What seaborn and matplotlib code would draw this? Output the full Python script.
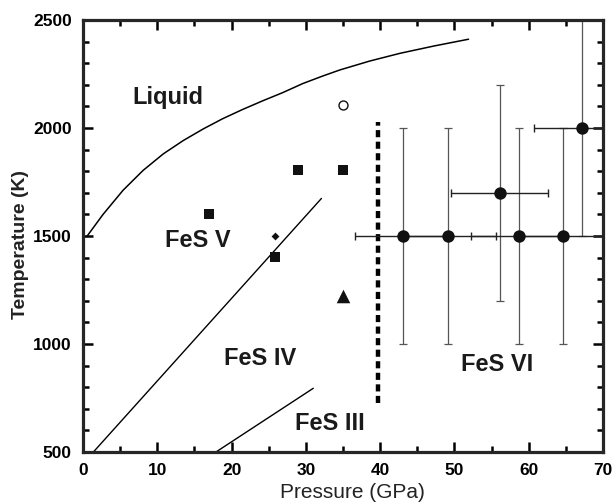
import matplotlib
matplotlib.use("Agg")
import matplotlib.pyplot as plt
from matplotlib.ticker import MultipleLocator
import seaborn as sns

sns.set_style("ticks")
plt.rcParams['font.family'] = ['Liberation Sans', 'DejaVu Sans']

# --- data ---
# melting curve (liquidus)
melt_p = [0.5, 2.7, 5.4, 8.1, 10.8, 13.5, 16.2, 18.8, 21.5, 24.2, 26.9, 29.6,
          32.3, 34.6, 38.6, 42.7, 47.3, 51.9]
melt_t = [1497, 1600, 1712, 1804, 1880, 1942, 1996, 2043, 2086, 2126, 2164, 2206,
          2241, 2269, 2310, 2346, 2380, 2411]
# FeS V / FeS IV boundary
b54_p = [1.4, 32.1]
b54_t = [500, 1674]
# FeS IV / FeS III boundary
b43_p = [17.9, 31.0]
b43_t = [500, 795]
# FeS VI boundary (dashed)
b6_p = [39.7, 39.7]
b6_t = [727, 2028]

# FeS VI data with error bars
vi_p = [43.1, 49.1, 56.1, 58.7, 64.6, 67.2]
vi_t = [1500, 1500, 1700, 1500, 1500, 2000]
vi_perr = [6.5, 6.5, 6.5, 6.5, 6.5, 6.5]
vi_terr_lo = [500, 500, 500, 500, 500, 500]
vi_terr_hi = [500, 500, 500, 500, 500, 600]

sq_p = [17.0, 28.9, 35.0, 25.9]
sq_t = [1603, 1804, 1804, 1401]
dia_p = [25.9]
dia_t = [1502]
tri_p = [35.0]
tri_t = [1222]
open_p = [35.0]
open_t = [2105]

labels = ["Liquid", "FeS V", "FeS IV", "FeS III", "FeS VI"]
label_p = [11.4, 15.5, 23.8, 33.2, 55.7]
label_t = [2143, 1481, 935, 630, 907]

fig = plt.figure(figsize=(6.13, 5.04), dpi=100)
ax = fig.add_axes([83/613, 52/504, 520/613, 432/504])

# phase boundaries
sns.lineplot(x=melt_p, y=melt_t, sort=False, color='k', lw=1.1, ax=ax)
sns.lineplot(x=b54_p, y=b54_t, sort=False, color='k', lw=1.0, ax=ax)
sns.lineplot(x=b43_p, y=b43_t, sort=False, color='k', lw=1.0, ax=ax)
ax.plot(b6_p, b6_t, color='k', lw=3.2, linestyle=(0, (1.6, 1.0)),
        solid_capstyle='butt', dash_capstyle='butt')

# error bars
ax.errorbar(vi_p, vi_t, yerr=[vi_terr_lo, vi_terr_hi], fmt='none',
            ecolor='#555555', elinewidth=0.9, capsize=3, capthick=0.9, zorder=2)
ax.errorbar(vi_p, vi_t, xerr=vi_perr, fmt='none',
            ecolor='#222222', elinewidth=1.0, capsize=3, capthick=1.0, zorder=2)

# markers
sns.scatterplot(x=vi_p, y=vi_t, marker='o', color='#111111', s=80, linewidth=0, ax=ax, zorder=3)
sns.scatterplot(x=sq_p, y=sq_t, marker='s', color='#111111', s=42, linewidth=0, ax=ax, zorder=3)
sns.scatterplot(x=dia_p, y=dia_t, marker='D', color='#111111', s=16, linewidth=0, ax=ax, zorder=3)
sns.scatterplot(x=tri_p, y=tri_t, marker='^', color='#111111', s=95, linewidth=0, ax=ax, zorder=3)
sns.scatterplot(x=open_p, y=open_t, marker='o', facecolor='white', edgecolor='#111111',
                s=42, linewidth=1.0, ax=ax, zorder=3)

for txt, p, t in zip(labels, label_p, label_t):
    ax.text(p, t, txt, fontsize=17, fontweight='bold', ha='center', va='center', color='#1a1a1a')

ax.set_xlim(0, 70)
ax.set_ylim(500, 2500)
ax.xaxis.set_major_locator(MultipleLocator(10))
ax.xaxis.set_minor_locator(MultipleLocator(5))
ax.yaxis.set_major_locator(MultipleLocator(500))
ax.yaxis.set_minor_locator(MultipleLocator(100))

for s in ax.spines.values():
    s.set_linewidth(2.3)
    s.set_visible(True)
ax.tick_params(which='both', direction='in', top=True, right=True, width=1.8, colors='k')
ax.tick_params(which='major', length=7, labelsize=12.5, pad=8)
ax.tick_params(which='minor', length=4.5)
for lab in ax.get_xticklabels() + ax.get_yticklabels():
    lab.set_fontweight('bold')

ax.set_xlabel("Pressure (GPa)", fontsize=15, color='#222222')
ax.set_ylabel("Temperature (K)", fontsize=14, fontweight='bold', color='#222222')
ax.xaxis.set_label_coords((352 - 83) / 520, -0.072)
ax.yaxis.set_label_coords(-0.104, 0.48)

fig.savefig("out.png", dpi=100)
